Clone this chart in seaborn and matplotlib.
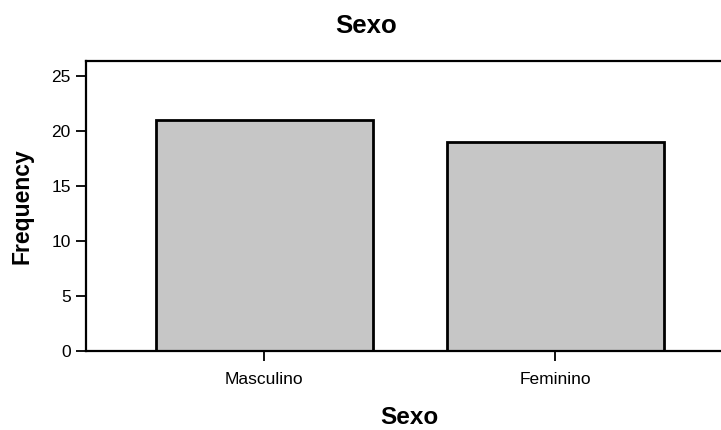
import matplotlib
matplotlib.use("Agg")
import matplotlib.pyplot as plt
import seaborn as sns
import pandas as pd

# Frequencies
sexo = ["Masculino", "Feminino"]
frecuencia = [21, 19]
y_ticks = [0, 5, 10, 15, 20, 25]

df = pd.DataFrame({"Sexo": sexo, "Frequency": frecuencia})

sns.set_style("white")
plt.rcParams["font.family"] = ["Liberation Sans", "DejaVu Sans"]
plt.rcParams["text.color"] = "black"
plt.rcParams["axes.labelcolor"] = "black"

fig = plt.figure(figsize=(7.21, 4.30), dpi=100)
ax = fig.add_axes([86 / 721, 1 - 351 / 430, 635 / 721, 290 / 430])

sns.barplot(data=df, x="Sexo", y="Frequency", color="#c6c6c6", saturation=1,
            width=0.745, edgecolor="black", linewidth=2, ax=ax)

ax.set_xlim(-0.612, 1.57)
ax.set_ylim(0, 26.4)
ax.set_yticks(y_ticks)

for side in ["left", "bottom", "top"]:
    ax.spines[side].set_visible(True)
    ax.spines[side].set_color("black")
    ax.spines[side].set_linewidth(1.6)
ax.spines["right"].set_visible(False)

ax.tick_params(axis="both", direction="out", length=7, width=1.3,
               color="black", labelsize=12.5, labelcolor="black",
               left=True, bottom=True)
ax.tick_params(axis="y", pad=4)
ax.tick_params(axis="x", pad=8)

ax.set_xlabel("Sexo", fontsize=17.5, fontweight="bold", color="black")
ax.xaxis.set_label_coords(0.509, -0.19)
ax.set_ylabel("Frequency", fontsize=16.5, fontweight="bold", color="black")
ax.yaxis.set_label_coords(-0.083, 0.5)

ax.set_title("Sexo", fontsize=18.5, fontweight="bold", color="black",
             x=0.441, y=1.097, pad=0)

fig.savefig("out.png", dpi=100)
plt.close(fig)
